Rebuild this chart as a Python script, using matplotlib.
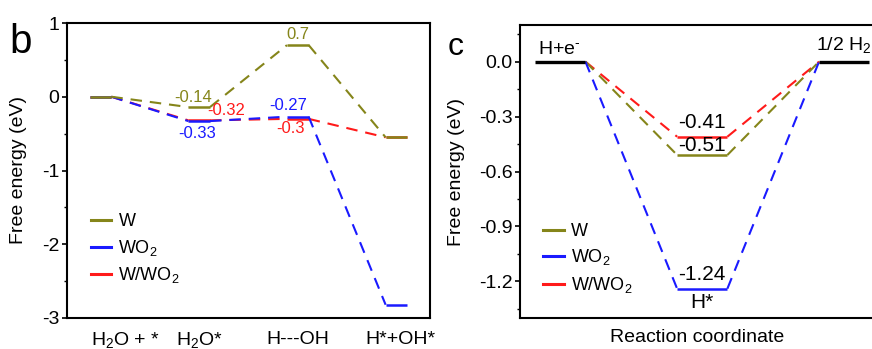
import matplotlib
matplotlib.use("Agg")
import matplotlib.pyplot as plt
from matplotlib.lines import Line2D

plt.rcParams['font.family'] = ['Liberation Sans', 'DejaVu Sans']
plt.rcParams['axes.unicode_minus'] = False
plt.rcParams['mathtext.fontset'] = 'custom'
plt.rcParams['mathtext.rm'] = 'Liberation Sans'
plt.rcParams['mathtext.it'] = 'Liberation Sans:italic'
plt.rcParams['mathtext.bf'] = 'Liberation Sans:bold'

# Data - panel b (water dissociation)
steps_b = ["H$_2$O + *", "H$_2$O*", "H---OH", "H*+OH*"]
w_b = [0, -0.14, 0.7, -0.55]
wo2_b = [0, -0.33, -0.27, -2.82]
wwo2_b = [0, -0.32, -0.3, -0.55]

# Data - panel c (hydrogen adsorption)
w_c = [0, -0.51, 0]
wo2_c = [0, -1.24, 0]
wwo2_c = [0, -0.41, 0]

names = ["W", "WO$_2$", "W/WO$_2$"]
colors = ["#85851a", "#1a1aff", "#ff1a1a"]

dash = (0, (5.5, 3.8))


def draw_profile(ax, values, color, half, lw_level=1.8, skip_levels=()):
    for i, v in enumerate(values):
        if i not in skip_levels:
            ax.plot([i - half, i + half], [v, v], color=color, lw=lw_level, solid_capstyle='butt')
        if i < len(values) - 1:
            ax.plot([i + half, i + 1 - half], [v, values[i + 1]], color=color, lw=1.5, linestyle=dash)


fig = plt.figure(figsize=(8.72, 3.49), dpi=100)

# ---------------- panel b ----------------
ax1 = fig.add_axes([67 / 872, 31 / 349, 363 / 872, 295 / 349])
hb = 0.11
draw_profile(ax1, wwo2_b, colors[2], hb)
draw_profile(ax1, wo2_b, colors[1], hb)
draw_profile(ax1, w_b, colors[0], hb)

ax1.set_xlim(-0.34, 3.34)
ax1.set_ylim(-3, 1)
ax1.set_yticks([-3, -2, -1, 0, 1])
ax1.set_yticks([-2.5, -1.5, -0.5, 0.5], minor=True)
ax1.set_xticks([0.25, 1.0, 2.0, 3.04])
ax1.set_xticklabels(steps_b)
ax1.tick_params(axis='x', length=0, pad=9, labelsize=14)
ax1.tick_params(axis='y', which='major', direction='out', length=3.5, width=1.2, labelsize=14, pad=2)
ax1.tick_params(axis='y', which='minor', direction='out', length=2, width=1.0)
for s in ax1.spines.values():
    s.set_linewidth(1.5)
ax1.set_ylabel("Free energy (eV)", fontsize=14)
ax1.yaxis.set_label_coords(-0.11, 0.5)

ax1.text(2.0, w_b[2] + 0.04, "0.7", color=colors[0], fontsize=12, ha='center', va='bottom')
ax1.text(0.94, w_b[1] + 0.03, "-0.14", color=colors[0], fontsize=12, ha='center', va='bottom')
ax1.text(1.27, wwo2_b[1] + 0.14, "-0.32", color=colors[2], fontsize=12, ha='center', va='center')
ax1.text(0.98, wo2_b[1] - 0.17, "-0.33", color=colors[1], fontsize=12, ha='center', va='center')
ax1.text(1.9, wo2_b[2] + 0.15, "-0.27", color=colors[1], fontsize=12, ha='center', va='center')
ax1.text(1.93, wwo2_b[2] - 0.13, "-0.3", color=colors[2], fontsize=12, ha='center', va='center')

fig.text(21 / 872, 1 - 53 / 349, "b", fontsize=29, ha='center', va='baseline')

handles = [Line2D([], [], color=c, lw=2.2) for c in colors]
ax1.legend(handles, names, loc='upper left', bbox_to_anchor=(0.02, 0.41), frameon=False,
           fontsize=13, handlelength=1.15, handletextpad=0.4, labelspacing=0.42)

# ---------------- panel c ----------------
ax2 = fig.add_axes([520 / 872, 31 / 349, 354 / 872, 293 / 349])
hc = 0.177
draw_profile(ax2, wwo2_c, colors[2], hc, skip_levels=(0, 2))
draw_profile(ax2, w_c, colors[0], hc, skip_levels=(0, 2))
draw_profile(ax2, wo2_c, colors[1], hc, skip_levels=(0, 2))
for i in (0, 2):
    ax2.plot([i - hc, i + hc], [w_c[i], w_c[i]], color='black', lw=2.4, solid_capstyle='butt')

ax2.set_xlim(-0.284, 2.21)
ax2.set_ylim(-1.4, 0.2)
ax2.set_yticks([-1.2, -0.9, -0.6, -0.3, 0.0])
ax2.set_yticks([-1.35, -1.05, -0.75, -0.45, -0.15, 0.15], minor=True)
ax2.set_yticklabels(["-1.2", "-0.9", "-0.6", "-0.3", "0.0"])
ax2.set_xticks([])
ax2.tick_params(axis='y', which='major', direction='out', length=3.5, width=1.2, labelsize=14, pad=2)
ax2.tick_params(axis='y', which='minor', direction='out', length=2, width=1.0)
for s in ax2.spines.values():
    s.set_linewidth(1.5)
ax2.spines['right'].set_visible(False)
ax2.set_ylabel("Free energy (eV)", fontsize=14)
ax2.yaxis.set_label_coords(-0.155, 0.5)
ax2.set_xlabel("Reaction coordinate", fontsize=14, labelpad=8)

ax2.text(1.0, wwo2_c[1] + 0.075, "-0.41", fontsize=15, ha='center', va='center')
ax2.text(1.0, w_c[1] + 0.052, "-0.51", fontsize=15, ha='center', va='center')
ax2.text(1.0, wo2_c[1] + 0.08, "-1.24", fontsize=15, ha='center', va='center')
ax2.text(1.0, wo2_c[1] - 0.075, "H*", fontsize=15, ha='center', va='center')
ax2.text(-0.01, 0.065, "H+e$^{\u2010}$", fontsize=14, ha='center', va='center')
ax2.text(2.0, 0.09, "1/2 H$_2$", fontsize=14, ha='center', va='center')

fig.text(456 / 872, 1 - 55 / 349, "c", fontsize=23, ha='center', va='baseline')

ax2.legend(handles, names, loc='upper left', bbox_to_anchor=(0.02, 0.38), frameon=False,
           fontsize=13, handlelength=1.15, handletextpad=0.4, labelspacing=0.42)

fig.savefig("out.png", dpi=100)
